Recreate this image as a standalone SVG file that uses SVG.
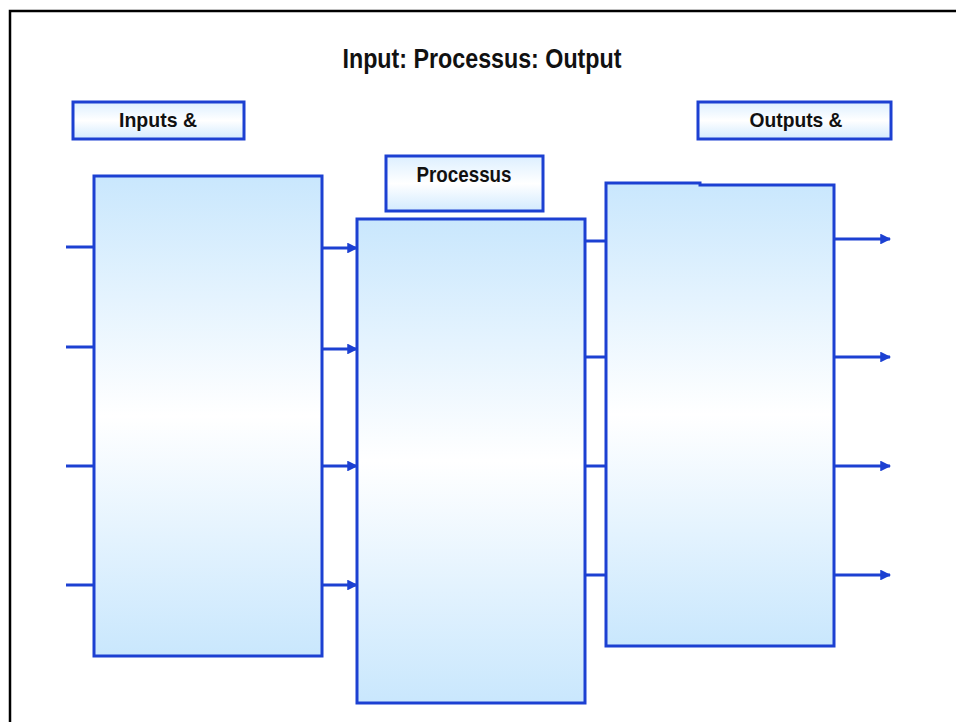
<svg xmlns="http://www.w3.org/2000/svg" width="956" height="722" viewBox="0 0 956 722">
  <style>
    .box { stroke: #1c40d2; stroke-width: 3; fill: url(#panel); }
    .tag { stroke: #1c40d2; stroke-width: 3; fill: url(#tagfill); }
    .wire { stroke: #1c40d2; stroke-width: 3; fill: none; }
    .arrow { stroke: #1c40d2; stroke-width: 3; fill: none; marker-end: url(#head); }
    .label { font-family: "Liberation Sans", Arial, sans-serif; font-weight: bold; fill: #111111; }
  </style>
  <defs>
    <linearGradient id="panel" x1="0" y1="0" x2="0" y2="1">
      <stop offset="0" stop-color="#c9e7fd"/>
      <stop offset="0.5" stop-color="#ffffff"/>
      <stop offset="1" stop-color="#c9e7fd"/>
    </linearGradient>
    <linearGradient id="tagfill" x1="0" y1="0" x2="0" y2="1">
      <stop offset="0" stop-color="#dcefff"/>
      <stop offset="0.5" stop-color="#ffffff"/>
      <stop offset="1" stop-color="#d2eafe"/>
    </linearGradient>
    <marker id="head" viewBox="0 0 10 10" refX="9" refY="5" markerWidth="3.6" markerHeight="3.6" orient="auto" markerUnits="strokeWidth">
      <path d="M0,0 L10,5 L0,10 Z" fill="#1c40d2"/>
    </marker>
  </defs>

  <rect width="956" height="722" fill="#ffffff"/>
  <!-- page frame -->
  <path d="M10,730 V11 H970" fill="none" stroke="#000000" stroke-width="2.5"/>

  <text class="label" x="482" y="68" font-size="27" text-anchor="middle" textLength="279" lengthAdjust="spacingAndGlyphs">Input: Processus: Output</text>

  <g id="inputs-tag">
    <rect class="tag" x="73" y="102" width="171" height="37"/>
    <text class="label" x="158" y="127" font-size="21" text-anchor="middle" textLength="78" lengthAdjust="spacingAndGlyphs">Inputs &amp;</text>
  </g>

  <g id="processus-tag">
    <rect class="tag" x="386" y="156" width="157" height="55"/>
    <text class="label" x="464" y="182" font-size="22" text-anchor="middle" textLength="95" lengthAdjust="spacingAndGlyphs">Processus</text>
  </g>

  <g id="outputs-tag">
    <rect class="tag" x="698" y="102" width="193" height="37"/>
    <text class="label" x="796" y="127" font-size="21" text-anchor="middle" textLength="93" lengthAdjust="spacingAndGlyphs">Outputs &amp;</text>
  </g>

  <g id="inputs-panel">
    <rect class="box" x="94" y="176" width="228" height="480"/>
  </g>

  <g id="processus-panel">
    <rect class="box" x="357" y="219" width="228" height="484"/>
  </g>

  <g id="outputs-panel">
    <path class="box" d="M606,183 H700 V185 H834 V646 H606 Z"/>
  </g>

  <g id="connectors">
    <!-- incoming lines -->
    <line class="wire" x1="66" y1="247" x2="94" y2="247"/>
    <line class="wire" x1="66" y1="347" x2="94" y2="347"/>
    <line class="wire" x1="66" y1="466" x2="94" y2="466"/>
    <line class="wire" x1="66" y1="585" x2="94" y2="585"/>
    <!-- inputs to processus -->
    <line class="arrow" x1="322" y1="248" x2="357" y2="248"/>
    <line class="arrow" x1="322" y1="349" x2="357" y2="349"/>
    <line class="arrow" x1="322" y1="466" x2="357" y2="466"/>
    <line class="arrow" x1="322" y1="585" x2="357" y2="585"/>
    <!-- processus to outputs -->
    <line class="wire" x1="585" y1="241" x2="606" y2="241"/>
    <line class="wire" x1="585" y1="357" x2="606" y2="357"/>
    <line class="wire" x1="585" y1="466" x2="606" y2="466"/>
    <line class="wire" x1="585" y1="575" x2="606" y2="575"/>
    <!-- outgoing arrows -->
    <line class="arrow" x1="834" y1="239" x2="890" y2="239"/>
    <line class="arrow" x1="834" y1="357" x2="890" y2="357"/>
    <line class="arrow" x1="834" y1="466" x2="890" y2="466"/>
    <line class="arrow" x1="834" y1="575" x2="890" y2="575"/>
  </g>
</svg>
